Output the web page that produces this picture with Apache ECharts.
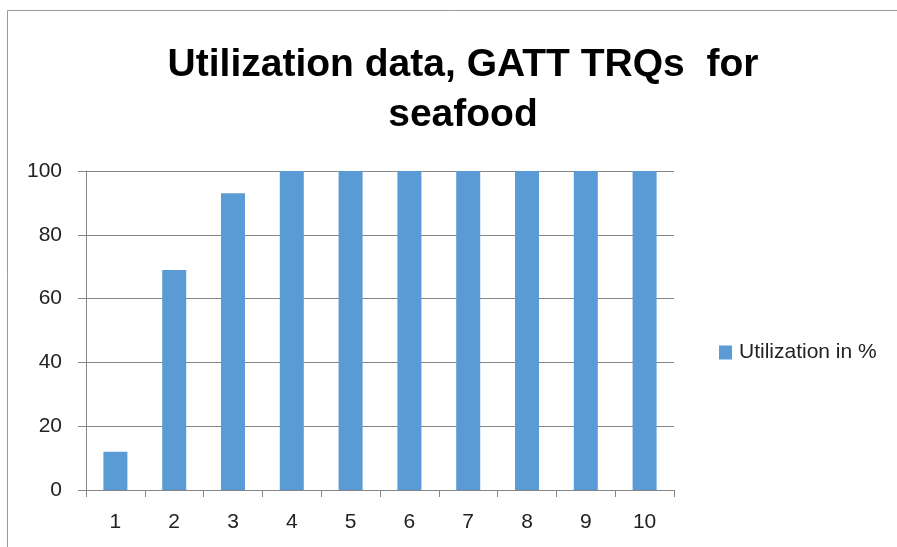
<!DOCTYPE html>
<html>
<head>
<meta charset="utf-8">
<script src="https://cdn.jsdelivr.net/npm/echarts@6/dist/echarts.min.js"></script>
<style>
    html, body { margin: 0; padding: 0; background: #fff; }
    #main { width: 897px; height: 547px; }
</style>
</head>
<body>
<div id="main"></div>
<script>
// 数据
const categories = ["1", "2", "3", "4", "5", "6", "7", "8", "9", "10"];
const utilization = [12, 69, 93, 100, 100, 100, 100, 100, 100, 100];
const seriesName = "Utilization in %";

const chart = echarts.init(document.getElementById("main"));
const font = "'Liberation Sans', Arial, sans-serif";

const option = {
    animation: false,
    backgroundColor: "#fff",
    title: {
        text: "Utilization data, GATT TRQs  for\nseafood",
        left: 458,
        textAlign: "center",
        top: 35,
        textStyle: {
            fontFamily: font,
            fontSize: 39,
            fontWeight: "bold",
            color: "#000",
            lineHeight: 50,
        },
    },
    legend: {
        orient: "vertical",
        left: 714,
        top: 337,
        itemWidth: 13,
        itemHeight: 14,
        itemGap: 6,
        icon: "rect",
        textStyle: { fontFamily: font, fontSize: 21, color: "#222", padding: [0, 0, 0, 2] },
        data: [seriesName],
    },
    grid: { left: 86, right: 223, top: 171, bottom: 57 },
    xAxis: {
        type: "category",
        data: categories,
        axisLine: { lineStyle: { color: "#868686", width: 1 } },
        axisTick: { show: true, length: 7, lineStyle: { color: "#868686" } },
        axisLabel: { fontFamily: font, fontSize: 21, color: "#222", margin: 22 },
    },
    yAxis: {
        type: "value",
        min: 0,
        max: 100,
        interval: 20,
        axisLine: { show: true, lineStyle: { color: "#868686" } },
        axisTick: { show: true, length: 8, lineStyle: { color: "#868686" } },
        splitLine: { lineStyle: { color: "#868686", width: 1 } },
        axisLabel: { fontFamily: font, fontSize: 21, color: "#222", margin: 24 },
    },
    series: [
        {
            name: seriesName,
            type: "bar",
            data: utilization,
            barWidth: 24,
            itemStyle: { color: "#5B9BD5" },
        },
    ],
    graphic: [
        {
            type: "polyline",
            shape: { points: [[7.5, 547], [7.5, 10.5], [897, 10.5]] },
            style: { stroke: "#9a9a9a", lineWidth: 1, fill: null },
            silent: true,
        },
    ],
};

chart.setOption(option);
</script>
</body>
</html>
